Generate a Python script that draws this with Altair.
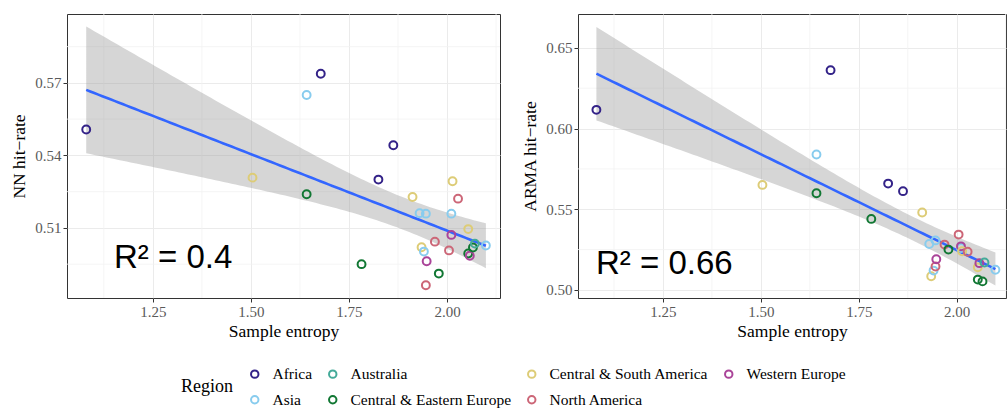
import altair as alt
import numpy as np
import pandas as pd

# One row per country: region, sample entropy and hit-rates of the two models
region = [
    "Africa", "Central & South America", "Asia", "Central & Eastern Europe", "Africa",
    "Central & Eastern Europe", "Africa", "Africa", "Central & South America", "Asia",
    "Central & South America", "Asia", "Asia", "North America", "Western Europe",
    "North America", "Central & Eastern Europe", "North America", "Asia", "Western Europe",
    "Central & South America", "North America", "Central & South America",
    "Central & Eastern Europe", "Western Europe", "Central & Eastern Europe", "Australia", "Asia",
]
entropy = [1.080, 1.504, 1.642, 1.642, 1.678, 1.782, 1.825, 1.863, 1.912, 1.930,
           1.935, 1.941, 1.946, 1.946, 1.948, 1.969, 1.979, 2.005, 2.011, 2.011,
           2.014, 2.028, 2.054, 2.054, 2.058, 2.066, 2.071, 2.099]
nn_hit = [0.5507, 0.5308, 0.5650, 0.5239, 0.5738, 0.4950, 0.5300, 0.5442, 0.5228, 0.5161,
          0.5020, 0.5002, 0.5159, 0.4863, 0.4962, 0.5043, 0.4911, 0.5007, 0.5159, 0.5071,
          0.5293, 0.5221, 0.5095, 0.4994, 0.4985, 0.5019, 0.5035, 0.5027]
arma_hit = [0.6116, 0.5651, 0.5839, 0.5599, 0.6362, 0.5440, 0.5659, 0.5612, 0.5480, 0.5285,
            0.5085, 0.5120, 0.5307, 0.5145, 0.5190, 0.5281, 0.5250, 0.5343, 0.5260, 0.5270,
            0.5240, 0.5237, 0.5140, 0.5064, 0.5166, 0.5053, 0.5170, 0.5125]

# Legend order (filled row by row in a 4-column grid) and colours
region_order = ["Africa", "Australia", "Central & South America", "Western Europe",
                "Asia", "Central & Eastern Europe", "North America"]
region_colors = ["#332288", "#44AA99", "#DDCC77", "#AA4499",
                 "#88CCEE", "#117733", "#CC6677"]

x_major = [1.25, 1.50, 1.75, 2.00]
x_minor = [1.125, 1.375, 1.625, 1.875, 2.125]
nn_major = [0.51, 0.54, 0.57]
nn_minor = [0.495, 0.525, 0.555, 0.585]
arma_major = [0.50, 0.55, 0.60, 0.65]
arma_minor = [0.525, 0.575, 0.625]

SERIF = "Liberation Serif"

df = pd.DataFrame({"Region": region, "entropy": entropy, "nn": nn_hit, "arma": arma_hit})


def linear_fit(x, y, n=100):
    """OLS line with a 95% confidence band for the mean."""
    x = np.asarray(x, float)
    y = np.asarray(y, float)
    b1, b0 = np.polyfit(x, y, 1)
    resid = y - (b0 + b1 * x)
    s = np.sqrt(resid @ resid / (len(x) - 2))
    sxx = ((x - x.mean()) ** 2).sum()
    grid = np.linspace(x.min(), x.max(), n)
    fit = b0 + b1 * grid
    se = s * np.sqrt(1 / len(x) + (grid - x.mean()) ** 2 / sxx)
    t = 2.0555  # t quantile, 0.975, 26 df
    return pd.DataFrame({"entropy": grid, "fit": fit, "lo": fit - t * se, "hi": fit + t * se})


def panel(col, title, xdom, ydom, ymajor, yminor, r2_text, r2_pos, width):
    xs = alt.Scale(domain=xdom, nice=False, zero=False)
    ys = alt.Scale(domain=ydom, nice=False, zero=False)
    x_axis = alt.Axis(values=x_major, format=".2f", title="Sample entropy")
    y_axis = alt.Axis(values=ymajor, format=".2f", title=title)

    def X(field):
        return alt.X(field, scale=xs, axis=x_axis)

    def Y(field):
        return alt.Y(field, scale=ys, axis=y_axis)

    # light minor gridlines between the labelled ones
    vgrid = alt.Chart(pd.DataFrame({"v": x_minor})).mark_rule(
        color="#F3F3F3", strokeWidth=0.8
    ).encode(x=X("v:Q"))
    hgrid = alt.Chart(pd.DataFrame({"v": yminor})).mark_rule(
        color="#F3F3F3", strokeWidth=0.8
    ).encode(y=Y("v:Q"))

    fit = linear_fit(df["entropy"], df[col])
    band = alt.Chart(fit).mark_area(color="#999999", opacity=0.4).encode(
        x=X("entropy:Q"), y=Y("lo:Q"), y2="hi:Q",
    )
    line = alt.Chart(fit).mark_line(color="#3366FF", strokeWidth=2.6).encode(
        x=X("entropy:Q"), y=Y("fit:Q"),
    )
    pts = alt.Chart(df).mark_point(filled=False, size=62, strokeWidth=2, opacity=1).encode(
        x=X("entropy:Q"),
        y=Y(f"{col}:Q"),
        color=alt.Color(
            "Region:N",
            scale=alt.Scale(domain=region_order, range=region_colors),
            legend=alt.Legend(
                title="Region", orient="none", legendX=114, legendY=352,
                columns=4, direction="horizontal", titleOrient="left",
                titleAnchor="middle", titleBaseline="middle", titlePadding=14,
                symbolType="circle", symbolSize=55, symbolStrokeWidth=2,
                labelFont=SERIF, labelFontSize=15.5, labelColor="#000000", labelLimit=400,
                titleFont=SERIF, titleFontSize=18, titleFontWeight="normal",
                titleColor="#000000", columnPadding=12, rowPadding=9, labelOffset=10,
            ),
        ),
    )
    r2 = alt.Chart(pd.DataFrame({"t": [r2_text]})).mark_text(
        font="Liberation Sans", fontSize=33, align="left", baseline="alphabetic", color="#000000"
    ).encode(text="t:N", x=alt.value(r2_pos[0]), y=alt.value(r2_pos[1]))

    return alt.layer(vgrid, hgrid, band, line, pts, r2).properties(width=width, height=284)


left = panel("nn", "NN hit\u2212rate", [1.031, 2.135], [0.481, 0.5985],
             nn_major, nn_minor, "R\u00b2 = 0.4", (47, 254), 433)
right = panel("arma", "ARMA hit\u2212rate", [1.033, 2.126], [0.495, 0.671],
              arma_major, arma_minor, "R\u00b2 = 0.66", (18, 260), 428)

chart = alt.hconcat(left, right, spacing=20).properties(
    padding={"left": 10, "top": 13, "right": 0, "bottom": 0}
).configure_view(
    stroke="#333333", strokeWidth=1
).configure_axis(
    grid=True, gridColor="#EBEBEB", gridWidth=1,
    domain=False, ticks=True, tickColor="#333333", tickSize=4, tickWidth=1,
    labelFont=SERIF, labelFontSize=15, labelColor="#5A5A5A", labelPadding=2,
    titleFont=SERIF, titleFontSize=17.5, titleFontWeight="normal", titleColor="#000000",
).configure_axisX(titlePadding=3).configure_axisY(titlePadding=6)

chart.save("out.html", embed_options={"renderer": "svg", "actions": False})
